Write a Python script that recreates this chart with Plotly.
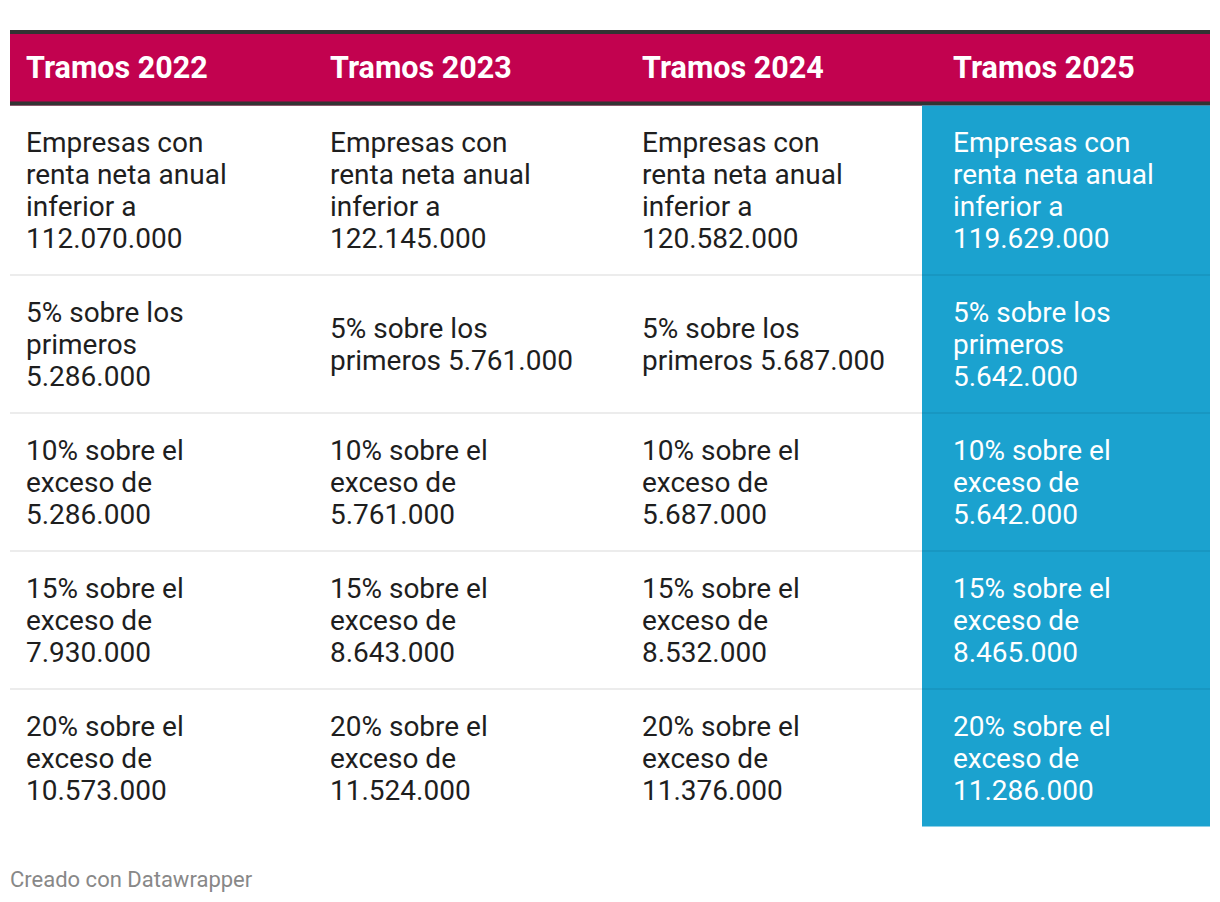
import plotly.graph_objects as go

# ---------------- data ----------------
headers = ["Tramos 2022", "Tramos 2023", "Tramos 2024", "Tramos 2025"]

col_2022 = [
    "Empresas con<br>renta neta anual<br>inferior a<br>112.070.000",
    "5% sobre los<br>primeros<br>5.286.000",
    "10% sobre el<br>exceso de<br>5.286.000",
    "15% sobre el<br>exceso de<br>7.930.000",
    "20% sobre el<br>exceso de<br>10.573.000",
]
col_2023 = [
    "Empresas con<br>renta neta anual<br>inferior a<br>122.145.000",
    "5% sobre los<br>primeros 5.761.000",
    "10% sobre el<br>exceso de<br>5.761.000",
    "15% sobre el<br>exceso de<br>8.643.000",
    "20% sobre el<br>exceso de<br>11.524.000",
]
col_2024 = [
    "Empresas con<br>renta neta anual<br>inferior a<br>120.582.000",
    "5% sobre los<br>primeros 5.687.000",
    "10% sobre el<br>exceso de<br>5.687.000",
    "15% sobre el<br>exceso de<br>8.532.000",
    "20% sobre el<br>exceso de<br>11.376.000",
]
col_2025 = [
    "Empresas con<br>renta neta anual<br>inferior a<br>119.629.000",
    "5% sobre los<br>primeros<br>5.642.000",
    "10% sobre el<br>exceso de<br>5.642.000",
    "15% sobre el<br>exceso de<br>8.465.000",
    "20% sobre el<br>exceso de<br>11.286.000",
]
columns = [col_2022, col_2023, col_2024, col_2025]
highlight_col = 3
footer = "Creado con Datawrapper"

# ---------------- layout constants ----------------
PAGE_OFF = 8          # default body margin of the page
W, H = 1220, 902
left, right = 10, 1210
col_text_x = [27, 331, 643, 954]
col_left = [10, 314, 626, 922]
head_top, head_border = 30, 4
head_bottom = 105.5
line_step = 32
row_pad = 41

PINK = "#C2024F"
DARK = "#333333"
BLUE = "#1BA2CF"
BLUE_SEP = "#1893BE"
SEP = "#E6E6E6"
TXT = "#1E1E1E"
FONT = "Roboto"

shapes = []
annotations = []

# header
shapes.append(dict(type="rect", xref="x", yref="y", x0=left, x1=right,
                   y0=head_top, y1=head_bottom, fillcolor=PINK, line_width=0, layer="below"))
shapes.append(dict(type="rect", xref="x", yref="y", x0=left, x1=right,
                   y0=head_top, y1=head_top + head_border, fillcolor=DARK, line_width=0, layer="below"))
shapes.append(dict(type="rect", xref="x", yref="y", x0=left, x1=right,
                   y0=head_bottom - head_border, y1=head_bottom, fillcolor=DARK, line_width=0, layer="below"))
head_mid = (head_top + head_border + head_bottom - head_border) / 2
for ci, h in enumerate(headers):
    annotations.append(dict(x=col_text_x[ci] - 3, y=head_mid, xref="x", yref="y", text=h,
                            showarrow=False, xanchor="left", yanchor="middle",
                            font=dict(family=FONT, size=30.5, color="white", weight="bold")))

# body rows
n_rows = len(col_2022)
y = head_bottom
row_bounds = []
for ri in range(n_rows):
    nlines = max(c[ri].count("<br>") + 1 for c in columns)
    h = nlines * line_step + row_pad
    top = y if ri == 0 else y + 1
    bottom = top + h
    row_bounds.append((top, bottom))
    y = bottom

body_bottom = row_bounds[-1][1]
# highlight column
shapes.append(dict(type="rect", xref="x", yref="y", x0=col_left[highlight_col], x1=right,
                   y0=head_bottom, y1=body_bottom, fillcolor=BLUE, line_width=0, layer="below"))
# separators
for ri in range(n_rows - 1):
    yy = row_bounds[ri][1] + 0.5
    shapes.append(dict(type="line", xref="x", yref="y", x0=left, x1=col_left[highlight_col],
                       y0=yy, y1=yy, line=dict(color=SEP, width=1.5), layer="below"))
    shapes.append(dict(type="line", xref="x", yref="y", x0=col_left[highlight_col], x1=right,
                       y0=yy, y1=yy, line=dict(color=BLUE_SEP, width=1.5), layer="below"))

for ci, col in enumerate(columns):
    color = "white" if ci == highlight_col else TXT
    for ri, cell in enumerate(col):
        lines = cell.split("<br>")
        top, bottom = row_bounds[ri]
        mid = (top + bottom) / 2
        n = len(lines)
        for li, ln in enumerate(lines):
            yy = mid + (li - (n - 1) / 2) * line_step + 0.5
            annotations.append(dict(x=col_text_x[ci] - 3, y=yy, xref="x", yref="y", text=ln,
                                    showarrow=False, xanchor="left", yanchor="middle",
                                    font=dict(family=FONT, size=28, color=color)))

annotations.append(dict(x=left - 2, y=879, xref="x", yref="y", text=footer, showarrow=False,
                        xanchor="left", yanchor="middle",
                        font=dict(family=FONT, size=22, color="#888888")))

fig = go.Figure()
fig.update_layout(
    width=W - PAGE_OFF, height=H - PAGE_OFF,
    margin=dict(l=0, r=0, t=0, b=0),
    paper_bgcolor="white", plot_bgcolor="white",
    xaxis=dict(range=[PAGE_OFF, W], visible=False, fixedrange=True),
    yaxis=dict(range=[H, PAGE_OFF], visible=False, fixedrange=True),
    shapes=shapes, annotations=annotations, showlegend=False,
)
fig.write_html("out.html")
